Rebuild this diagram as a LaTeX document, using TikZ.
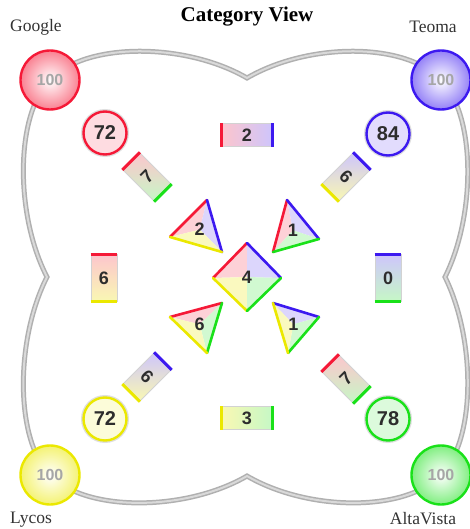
\documentclass[tikz,border=0pt]{standalone}
\usepackage{fontspec}
\setmainfont{Liberation Serif}
\setsansfont{Liberation Sans}
\usetikzlibrary{positioning}
\definecolor{engred}{RGB}{245,25,55}
\definecolor{engblue}{RGB}{60,25,240}
\definecolor{enggreen}{RGB}{25,225,25}
\definecolor{engyellow}{RGB}{235,232,0}
\definecolor{digitgrey}{RGB}{45,45,45}

\begin{document}
\begin{tikzpicture}[x=1pt, y=-1pt,
    bigdot/.style={circle, draw=#1, line width=2.4pt, minimum size=59pt, inner sep=0pt, inner color=white, outer color=#1!55, font=\sffamily\bfseries\fontsize{16}{16}\selectfont, text=gray!70},
    smalldot/.style={circle, draw=#1, line width=2.4pt, fill=#1!15, minimum size=43pt, inner sep=0pt, preaction={draw=gray!25, line width=5pt}, font=\sffamily\bfseries\fontsize{20}{20}\selectfont, text=digitgrey},
    cell/.style={rectangle, draw=gray!35, line width=0.8pt, inner sep=0pt, font=\sffamily\bfseries\fontsize{18}{18}\selectfont, text=digitgrey},
    cellh/.style={cell, minimum width=50pt, minimum height=23pt},
    cellv/.style={cell, minimum width=26pt, minimum height=47pt},
    celld/.style={cell, minimum width=24pt, minimum height=44pt},
    bar/.style={line width=3pt, #1},
    rim/.style={line width=2.6pt, line cap=round, line join=round, #1},
    num/.style={font=\sffamily\bfseries\fontsize{18}{18}\selectfont, text=digitgrey},
    engine/.style={font=\fontsize{17.5}{17.5}\selectfont, text=black!80}
]
\path[fill=white] (0,0) rectangle (469,529);
\useasboundingbox (0,0) rectangle (469,529);

% Title and engine names
\node (TITLE) [font=\bfseries\fontsize{21}{21}\selectfont] at (247,17) {Category View};
\node (GOOGLELBL) [engine] at (36,27) {Google};
\node (TEOMALBL) [engine] at (433,27) {Teoma};
\node (LYCOSLBL) [engine] at (31,520) {Lycos};
\node (ALTALBL) [engine] at (423,519) {AltaVista};

% Outline
\coordinate (GOOGLEC) at (50,80);
\coordinate (TEOMAC) at (441,80);
\coordinate (ALTAC) at (441,475);
\coordinate (LYCOSC) at (50,475);
\coordinate (TOPCUSP) at (247,78);
\coordinate (RIGHTCUSP) at (445,277);
\coordinate (BOTCUSP) at (247,476);
\coordinate (LEFTCUSP) at (47,277);
\draw[line width=2pt, gray!30, preaction={draw, line width=5pt, gray!62}]
    (GOOGLEC) .. controls (85,42) and (185,42) .. (TOPCUSP)
    .. controls (309,42) and (406,42) .. (TEOMAC)
    .. controls (476,115) and (476,215) .. (RIGHTCUSP)
    .. controls (476,340) and (476,440) .. (ALTAC)
    .. controls (406,512) and (309,512) .. (BOTCUSP)
    .. controls (185,512) and (85,512) .. (LYCOSC)
    .. controls (15,440) and (15,340) .. (LEFTCUSP)
    .. controls (15,215) and (15,115) .. cycle;

% Engine circles
\node (GOOGLE) [bigdot=engred] at (GOOGLEC) {100};
\node (TEOMA) [bigdot=engblue] at (TEOMAC) {100};
\node (LYCOS) [bigdot=engyellow] at (LYCOSC) {100};
\node (ALTA) [bigdot=enggreen] at (ALTAC) {100};

% Single engine counts
\node (GOOGLEONLY) [smalldot=engred] at (105,133) {72};
\node (TEOMAONLY) [smalldot=engblue] at (388,134) {84};
\node (LYCOSONLY) [smalldot=engyellow] at (105,419) {72};
\node (ALTAONLY) [smalldot=enggreen] at (388,419) {78};

% Pairs, sides
\node (GT) [cellh, left color=engred!25, right color=engblue!25] at (247,135) {2};
\draw[bar=engred] (GT.north west) -- (GT.south west);
\draw[bar=engblue] (GT.north east) -- (GT.south east);
\node (YG) [cellh, left color=engyellow!30, right color=enggreen!25] at (247,418) {3};
\draw[bar=engyellow] (YG.north west) -- (YG.south west);
\draw[bar=enggreen] (YG.north east) -- (YG.south east);
\node (GY) [cellv, top color=engred!25, bottom color=engyellow!30] at (104,278) {6};
\draw[bar=engred] (GY.north west) -- (GY.north east);
\draw[bar=engyellow] (GY.south west) -- (GY.south east);
\node (TA) [cellv, top color=engblue!25, bottom color=enggreen!25] at (388,278) {0};
\draw[bar=engblue] (TA.north west) -- (TA.north east);
\draw[bar=enggreen] (TA.south west) -- (TA.south east);

% Pairs, diagonals
\node (GA) [celld, rotate=45, top color=engred!25, bottom color=enggreen!25] at (147,177) {7};
\draw[bar=engred] (GA.north west) -- (GA.north east);
\draw[bar=enggreen] (GA.south west) -- (GA.south east);
\node (TL) [celld, rotate=-45, top color=engblue!25, bottom color=engyellow!30] at (346,177) {6};
\draw[bar=engblue] (TL.north west) -- (TL.north east);
\draw[bar=engyellow] (TL.south west) -- (TL.south east);
\node (TL2) [celld, rotate=-45, top color=engblue!25, bottom color=engyellow!30] at (147,377) {6};
\draw[bar=engblue] (TL2.north west) -- (TL2.north east);
\draw[bar=engyellow] (TL2.south west) -- (TL2.south east);
\node (GA2) [celld, rotate=45, top color=engred!25, bottom color=enggreen!25] at (346,379) {7};
\draw[bar=engred] (GA2.north west) -- (GA2.north east);
\draw[bar=enggreen] (GA2.south west) -- (GA2.south east);

% Triples
\coordinate (TLa) at (207,200);
\coordinate (TLb) at (170,237);
\coordinate (TLc) at (222,252);
\coordinate (TLm) at (barycentric cs:TLa=1,TLb=1,TLc=1);
\fill[engred!20] (TLb) -- (TLa) -- (TLm) -- cycle;
\fill[engblue!18] (TLa) -- (TLc) -- (TLm) -- cycle;
\fill[engyellow!25] (TLb) -- (TLc) -- (TLm) -- cycle;
\draw[rim=engred] (TLb) -- (TLa);
\draw[rim=engblue] (TLa) -- (TLc);
\draw[rim=engyellow] (TLb) -- (TLc);
\node (GTL) [num] at (TLm) {2};

\coordinate (TRa) at (287,200);
\coordinate (TRb) at (273,252);
\coordinate (TRc) at (319,239);
\coordinate (TRm) at (barycentric cs:TRa=1,TRb=1,TRc=1);
\fill[engred!20] (TRa) -- (TRb) -- (TRm) -- cycle;
\fill[engblue!18] (TRa) -- (TRc) -- (TRm) -- cycle;
\fill[enggreen!20] (TRb) -- (TRc) -- (TRm) -- cycle;
\draw[rim=engred] (TRa) -- (TRb);
\draw[rim=engblue] (TRa) -- (TRc);
\draw[rim=enggreen] (TRb) -- (TRc);
\node (GTA) [num] at (TRm) {1};

\coordinate (BLa) at (170,317);
\coordinate (BLb) at (222,303);
\coordinate (BLc) at (207,353);
\coordinate (BLm) at (barycentric cs:BLa=1,BLb=1,BLc=1);
\fill[engred!20] (BLa) -- (BLb) -- (BLm) -- cycle;
\fill[enggreen!20] (BLb) -- (BLc) -- (BLm) -- cycle;
\fill[engyellow!25] (BLa) -- (BLc) -- (BLm) -- cycle;
\draw[rim=engred] (BLa) -- (BLb);
\draw[rim=enggreen] (BLb) -- (BLc);
\draw[rim=engyellow] (BLa) -- (BLc);
\node (GLA) [num] at (BLm) {6};

\coordinate (BRa) at (273,303);
\coordinate (BRb) at (319,317);
\coordinate (BRc) at (288,353);
\coordinate (BRm) at (barycentric cs:BRa=1,BRb=1,BRc=1);
\fill[engblue!18] (BRa) -- (BRb) -- (BRm) -- cycle;
\fill[enggreen!20] (BRb) -- (BRc) -- (BRm) -- cycle;
\fill[engyellow!25] (BRa) -- (BRc) -- (BRm) -- cycle;
\draw[rim=engblue] (BRa) -- (BRb);
\draw[rim=enggreen] (BRb) -- (BRc);
\draw[rim=engyellow] (BRa) -- (BRc);
\node (TLA) [num] at (BRm) {1};

% All four
\coordinate (Dn) at (247,243);
\coordinate (Dw) at (213,278);
\coordinate (De) at (281,278);
\coordinate (Ds) at (247,311);
\coordinate (Dm) at (247,277);
\fill[engred!20] (Dw) -- (Dn) -- (Dm) -- cycle;
\fill[engblue!18] (Dn) -- (De) -- (Dm) -- cycle;
\fill[engyellow!25] (Dw) -- (Ds) -- (Dm) -- cycle;
\fill[enggreen!20] (Ds) -- (De) -- (Dm) -- cycle;
\draw[rim=engred] (Dw) -- (Dn);
\draw[rim=engblue] (Dn) -- (De);
\draw[rim=engyellow] (Dw) -- (Ds);
\draw[rim=enggreen] (Ds) -- (De);
\node (GTLA) [num] at (Dm) {4};

\end{tikzpicture}
\end{document}
